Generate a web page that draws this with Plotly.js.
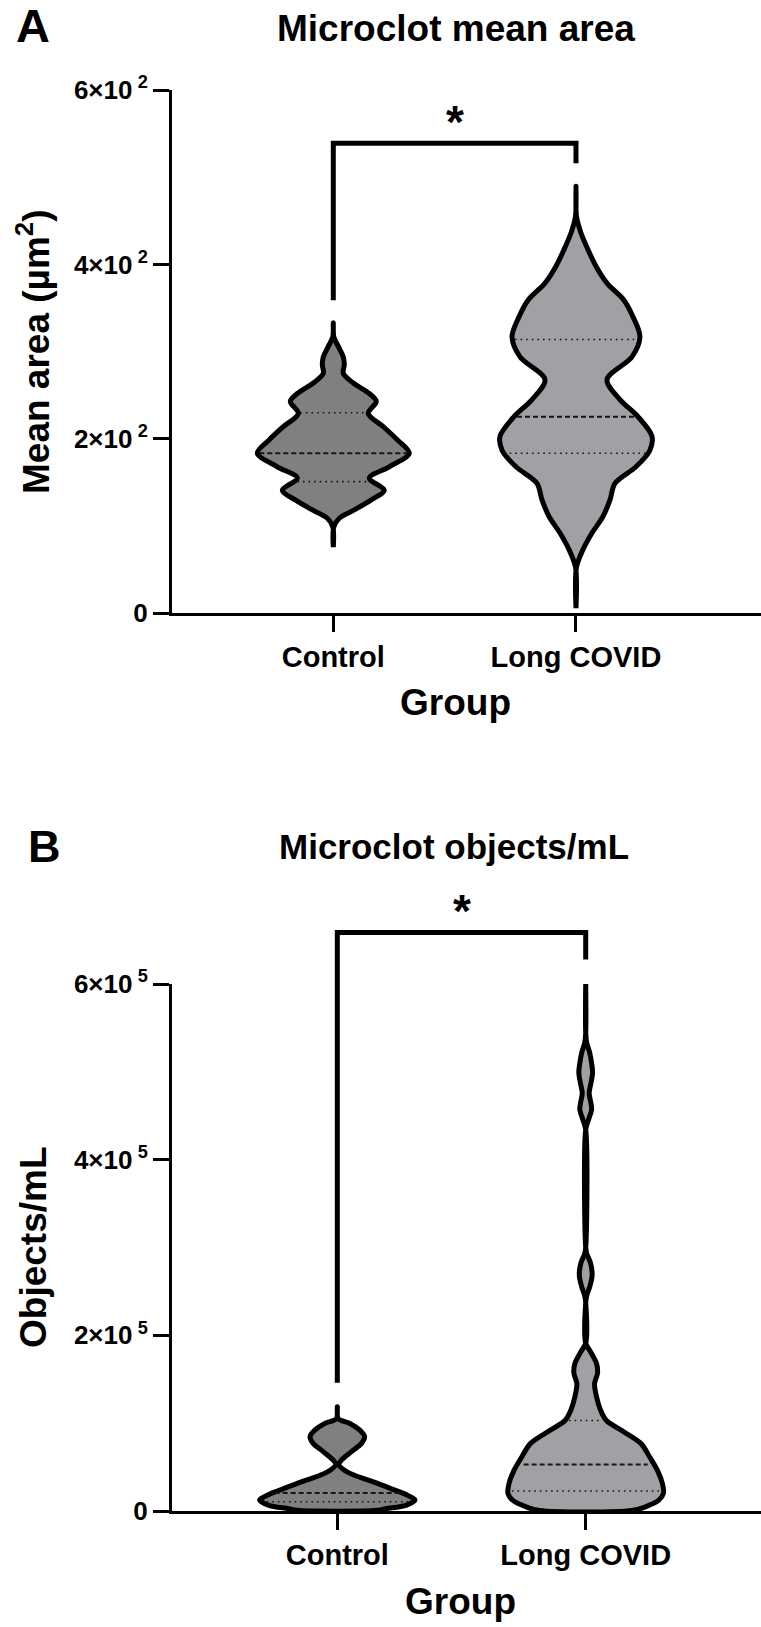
<!DOCTYPE html>
<html>
<head>
<meta charset="utf-8">
<script src="https://cdn.plot.ly/plotly-3.0.1.min.js"></script>
<style>
  html, body { margin: 0; padding: 0; background: #fff; }
  #chart { width: 761px; height: 1627px; }
</style>
</head>
<body>
<div id="chart"></div>
<script>
// ---- data ----
const groups = ['Control', 'Long COVID'];

// Panel A — microclot mean area (µm²): violin outline as level / relative density
const areaTicks = [0, 200, 400, 600];
const areaTickText = ['0', '2×10\u2009<sup>2</sup>', '4×10\u2009<sup>2</sup>', '6×10\u2009<sup>2</sup>'];

const areaCtrlLevels  = [333, 317, 306, 294, 285, 275, 264, 252, 243, 229, 214, 199, 183.5, 168, 155, 141, 130, 118.5, 109, 99, 76];
const areaCtrlDensity = [0, 0.5, 5, 10, 11, 10, 20, 36, 43, 35, 50, 64, 76, 56, 36, 51, 38, 21, 6, 0.5, 0];
const areaCtrlQuart   = [151, 183.5, 230];
const areaCtrlQuartD  = [36, 74, 33];

const areaLcLevels  = [489.5, 455, 436, 417, 398, 378.6, 359, 340, 317, 294, 268, 245, 225.5, 203, 187, 168, 149, 130, 111, 92, 73, 53, 6];
const areaLcDensity = [0, 0.5, 5, 12, 20, 31, 48, 57, 64, 56, 31, 44, 62, 76, 74, 60, 39, 34, 27, 16, 7, 0.5, 0];
const areaLcQuart   = [183.5, 225.5, 314];
const areaLcQuartD  = [72, 59, 61];

const areaBracket = [359, 539, 516];   // left leg end, bar, right leg end

// Panel B — microclot objects/mL
const objTicks = [0, 200000, 400000, 600000];
const objTickText = ['0', '2×10\u2009<sup>5</sup>', '4×10\u2009<sup>5</sup>', '6×10\u2009<sup>5</sup>'];

const objCtrlLevels  = [118800, 105000, 100000, 92300, 84700, 77000, 67600, 57800, 53000, 46400, 40700, 33400, 25500, 18200, 12500, 6500, 2700, 800];
const objCtrlDensity = [0, 1, 12, 22, 27, 24, 14, 4, 1.5, 7, 17, 35, 53, 69, 77, 68, 48, 40];
const objCtrlQuart   = [10500, 20500, 56400];
const objCtrlQuartD  = [70, 62, 2];

const objLcLevels  = [601700, 545000, 533000, 522000, 510000, 499000, 488000, 476000, 466000, 457000, 446000, 434000,
                      300000, 293000, 282000, 268000, 255000, 245000, 237000,
                      191000, 183000, 168000, 157000, 145000, 130000, 115000, 103000, 92000, 77000, 61500, 46000, 31000, 20000, 12000, 4500, 500];
const objLcDensity = [0, 0, 1, 4, 6, 7, 5.5, 3.5, 5, 6, 3, 0,
                      0, 1, 5, 6.5, 4, 1, 0,
                      0, 4, 11, 12, 9, 11, 15, 21, 36, 56, 65, 73, 78, 79, 74, 60, 47];
const objLcQuart   = [22800, 52900, 103000];
const objLcQuartD  = [75, 63, 17];

const objBracket = [145900, 658700, 628000];

// ---- layout helpers ----
const W = 761, H = 1627;
const FONT = 'Liberation Sans, Arial, sans-serif';
const px = v => v / W;
const py = v => 1 - v / H;

const VIOLIN_HALF = 0.313;           // max half width, category units
const CTRL_FILL = '#808080';
const LC_FILL   = '#a1a1a5';

const xDom  = [px(172), 1];
const aYDom = [py(613.3), py(90)];
const bYDom = [py(1511), py(984)];
const aXRange = [-0.6646, 1.7623];
const bXRange = [-0.6655, 1.7057];

function violin(levels, density, center, fill, xa, ya) {
  const peak = Math.max(...density);
  const half = density.map(d => d / peak * VIOLIN_HALF);
  const xs = half.map(h => center - h).concat(half.slice().reverse().map(h => center + h));
  const ys = levels.concat(levels.slice().reverse());
  return {
    type: 'scatter', mode: 'lines', x: xs, y: ys,
    fill: 'toself', fillcolor: fill,
    line: { color: '#000', width: 5, shape: 'spline', smoothing: 0.9 },
    xaxis: xa, yaxis: ya, hoverinfo: 'skip', showlegend: false,
  };
}

function quartiles(values, dens, densityRef, center, xa, ya) {
  const peak = Math.max(...densityRef);
  return values.map((v, i) => ({
    type: 'scatter', mode: 'lines',
    x: [center - dens[i] / peak * VIOLIN_HALF, center + dens[i] / peak * VIOLIN_HALF],
    y: [v, v],
    line: i === 1
      ? { color: '#151515', width: 2, dash: '5px,3px' }
      : { color: '#151515', width: 1.6, dash: '1.6px,4px' },
    xaxis: xa, yaxis: ya, hoverinfo: 'skip', showlegend: false,
  }));
}

function bracket(b, xa, ya) {
  return {
    type: 'scatter', mode: 'lines',
    x: [0, 0, 1, 1], y: [b[0], b[1], b[1], b[2]],
    line: { color: '#000', width: 5 },
    xaxis: xa, yaxis: ya, hoverinfo: 'skip', showlegend: false,
  };
}

function catAxis(domain, range, anchor) {
  return {
    domain, range, anchor,
    tickmode: 'array', tickvals: [0, 1], ticktext: groups,
    ticks: 'outside', ticklen: 16, tickwidth: 3, tickcolor: '#000',
    showline: true, linewidth: 3, linecolor: '#000',
    showgrid: false, zeroline: false, fixedrange: true,
    tickfont: { family: FONT, size: 29, color: '#000', weight: 'bold' },
  };
}

function valAxis(domain, range, anchor, vals, text) {
  return {
    domain, range, anchor,
    tickmode: 'array', tickvals: vals, ticktext: text,
    ticks: 'outside', ticklen: 16, tickwidth: 3, tickcolor: '#000',
    showline: true, linewidth: 3, linecolor: '#000',
    showgrid: false, zeroline: false, fixedrange: true,
    tickfont: { family: FONT, size: 26, color: '#000', weight: 'bold' },
  };
}

// invisible companion axes, taller than the plot, so brackets can sit above the axis top
function overlayY(dom, range) {
  const top = range[1] * (1 - dom[0]) / (dom[1] - dom[0]);
  return { domain: [dom[0], 1], range: [0, top], visible: false, fixedrange: true };
}

const traces = [
  violin(areaCtrlLevels, areaCtrlDensity, 0, CTRL_FILL, 'x', 'y'),
  violin(areaLcLevels, areaLcDensity, 1, LC_FILL, 'x', 'y'),
  ...quartiles(areaCtrlQuart, areaCtrlQuartD, areaCtrlDensity, 0, 'x', 'y'),
  ...quartiles(areaLcQuart, areaLcQuartD, areaLcDensity, 1, 'x', 'y'),
  bracket(areaBracket, 'x3', 'y3'),

  violin(objCtrlLevels, objCtrlDensity, 0, CTRL_FILL, 'x2', 'y2'),
  violin(objLcLevels, objLcDensity, 1, LC_FILL, 'x2', 'y2'),
  ...quartiles(objCtrlQuart, objCtrlQuartD, objCtrlDensity, 0, 'x2', 'y2'),
  ...quartiles(objLcQuart, objLcQuartD, objLcDensity, 1, 'x2', 'y2'),
  bracket(objBracket, 'x4', 'y4'),
];

const bold = (size) => ({ family: FONT, size, color: '#000', weight: 'bold' });
const note = (text, x, y, size, extra) => Object.assign({
  text, x, y, xref: 'paper', yref: 'paper',
  xanchor: 'center', yanchor: 'middle', showarrow: false, font: bold(size),
}, extra || {});

const annotations = [
  note('A', px(14), py(25), 47, { xanchor: 'left' }),
  note('Microclot mean area', px(456), py(28.3), 37),
  note('Mean area (µm<sup>2</sup>)', px(33.5), py(351.5), 37, { textangle: -90 }),
  note('Group', px(455), py(702.5), 37),
  { text: '*', x: 0.5, y: areaBracket[1], xref: 'x3', yref: 'y3', yshift: 21,
    showarrow: false, font: bold(46), xanchor: 'center', yanchor: 'middle' },

  note('B', px(26), py(846), 45, { xanchor: 'left' }),
  note('Microclot objects/mL', px(454), py(846.5), 35),
  note('Objects/mL', px(33.5), py(1247.5), 37, { textangle: -90 }),
  note('Group', px(460), py(1601.5), 37),
  { text: '*', x: 0.5, y: objBracket[1], xref: 'x4', yref: 'y4', yshift: 21,
    showarrow: false, font: bold(46), xanchor: 'center', yanchor: 'middle' },
];

const layout = {
  width: W, height: H,
  margin: { t: 0, r: 0, b: 0, l: 0 },
  paper_bgcolor: '#fff',
  plot_bgcolor: 'rgba(0,0,0,0)',
  font: { family: FONT, color: '#000' },
  showlegend: false,
  xaxis:  catAxis(xDom, aXRange, 'y'),
  yaxis:  valAxis(aYDom, [0, 600], 'x', areaTicks, areaTickText),
  xaxis2: catAxis(xDom, bXRange, 'y2'),
  yaxis2: valAxis(bYDom, [0, 600000], 'x2', objTicks, objTickText),
  xaxis3: { domain: xDom, range: aXRange, anchor: 'y3', visible: false, fixedrange: true },
  yaxis3: Object.assign(overlayY(aYDom, [0, 600]), { anchor: 'x3' }),
  xaxis4: { domain: xDom, range: bXRange, anchor: 'y4', visible: false, fixedrange: true },
  yaxis4: Object.assign(overlayY(bYDom, [0, 600000]), { anchor: 'x4' }),
  annotations,
};

Plotly.newPlot('chart', traces, layout, { displayModeBar: false, staticPlot: true });
</script>
</body>
</html>
